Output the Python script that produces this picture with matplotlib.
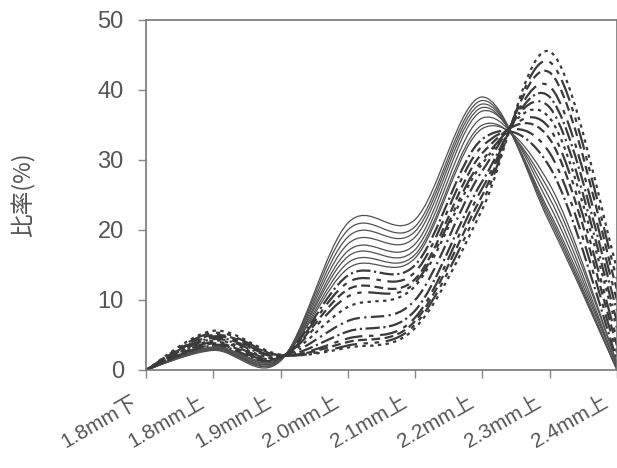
import matplotlib
matplotlib.use("Agg")
import matplotlib.pyplot as plt
from matplotlib.path import Path
from matplotlib.patches import PathPatch
from matplotlib.transforms import ScaledTranslation

# 粒度区分
categories = ['1.8mm下', '1.8mm上', '1.9mm上', '2.0mm上', '2.1mm上', '2.2mm上', '2.3mm上', '2.4mm上']

# 実線の系列 (2.2mm上でピーク)
solid_series = [
    [0, 2.8, 1.3, 21.0, 21.5, 39.0, 21.0, 0.0],
    [0, 2.9, 1.4, 20.0, 20.5, 38.5, 21.5, 0.0],
    [0, 3.0, 1.4, 19.0, 19.8, 38.0, 22.0, 0.0],
    [0, 3.0, 1.5, 18.0, 19.0, 37.5, 22.5, 0.5],
    [0, 3.1, 1.5, 17.0, 18.0, 37.0, 23.5, 0.5],
    [0, 3.2, 1.6, 16.2, 17.2, 36.0, 24.5, 0.5],
    [0, 3.2, 1.6, 15.3, 16.5, 35.0, 25.5, 1.0],
    [0, 3.3, 1.7, 14.5, 16.0, 34.5, 26.5, 1.0],
]

# 一点鎖線などの系列 (2.3mm上でピーク)
dash_series = [
    [0, 3.5, 1.7, 13.5, 15.0, 33.0, 29.0, 1.5],
    [0, 3.6, 1.8, 12.5, 14.0, 32.0, 31.0, 2.5],
    [0, 3.8, 1.8, 11.5, 13.0, 31.0, 33.0, 3.5],
    [0, 4.0, 1.9, 10.5, 12.5, 30.0, 34.5, 4.5],
    [0, 4.2, 1.9, 9.0, 12.0, 29.5, 36.0, 6.0],
    [0, 4.4, 2.0, 7.0, 10.0, 28.5, 37.5, 7.0],
    [0, 4.6, 2.0, 5.5, 8.5, 27.0, 39.0, 8.5],
    [0, 4.8, 2.0, 4.5, 7.5, 26.0, 40.5, 10.0],
    [0, 5.0, 2.1, 4.0, 7.0, 25.0, 42.5, 11.5],
    [0, 5.3, 2.1, 3.5, 6.5, 24.0, 44.0, 13.0],
    [0, 5.6, 2.2, 3.2, 6.0, 23.0, 45.5, 14.5],
]

dash_styles = ['-.', (0, (8, 3, 2, 3)), (0, (4, 2)), (0, (10, 3, 2, 3, 2, 3)),
               (0, (1.5, 2)), (0, (6, 2, 1, 2))]

plt.rcParams['font.family'] = ['Liberation Sans', 'Noto Sans CJK JP', 'DejaVu Sans']


def smooth_path(xs, ys):
    # Excel風の平滑線 (Catmull-Rom をベジェ曲線に変換)
    pts = list(zip(xs, ys))
    verts = [pts[0]]
    codes = [Path.MOVETO]
    n = len(pts)
    for i in range(n - 1):
        p0 = pts[max(i - 1, 0)]
        p1 = pts[i]
        p2 = pts[i + 1]
        p3 = pts[min(i + 2, n - 1)]
        c1 = (p1[0] + (p2[0] - p0[0]) / 6, p1[1] + (p2[1] - p0[1]) / 6)
        c2 = (p2[0] - (p3[0] - p1[0]) / 6, p2[1] - (p3[1] - p1[1]) / 6)
        verts += [c1, c2, p2]
        codes += [Path.CURVE4] * 3
    return Path(verts, codes)


fig = plt.figure(figsize=(6.17, 4.68), dpi=100)
ax = fig.add_axes([146 / 617, 1 - 370 / 468, 1 - 146 / 617, 350 / 468])

x = list(range(len(categories)))
for ys in solid_series:
    ax.add_patch(PathPatch(smooth_path(x, ys), fill=False, edgecolor='#505050',
                           linewidth=0.9, linestyle='-'))
for i, ys in enumerate(dash_series):
    ax.add_patch(PathPatch(smooth_path(x, ys), fill=False, edgecolor='#3a3a3a',
                           linewidth=1.6, linestyle=dash_styles[i % len(dash_styles)]))

ax.set_xlim(0, len(categories) - 1)
ax.set_ylim(0, 50)
ax.set_yticks(range(0, 51, 10))
ax.set_xticks(x)
ax.tick_params(axis='both', direction='out', length=6, color='#888888', width=1)
ax.tick_params(axis='y', pad=10, labelsize=17, labelcolor='#555555')
ax.tick_params(axis='x', pad=8)
ax.set_xticklabels(categories, rotation=30, ha='right', rotation_mode='anchor',
                   fontsize=15, color='#555555')
shift = ScaledTranslation(-15 / 100, -3 / 100, fig.dpi_scale_trans)
for lbl in ax.get_xticklabels():
    lbl.set_transform(lbl.get_transform() + shift)
for s in ax.spines.values():
    s.set_color('#777777')
    s.set_linewidth(1.2)

ax.set_ylabel('比率(%)', fontsize=17, color='#555555',
              family=['Noto Sans CJK JP', 'DejaVu Sans'])
ax.yaxis.set_label_coords(-(146 - 36) / 471, 0.5)

fig.savefig('out.png', dpi=100, facecolor='white')
